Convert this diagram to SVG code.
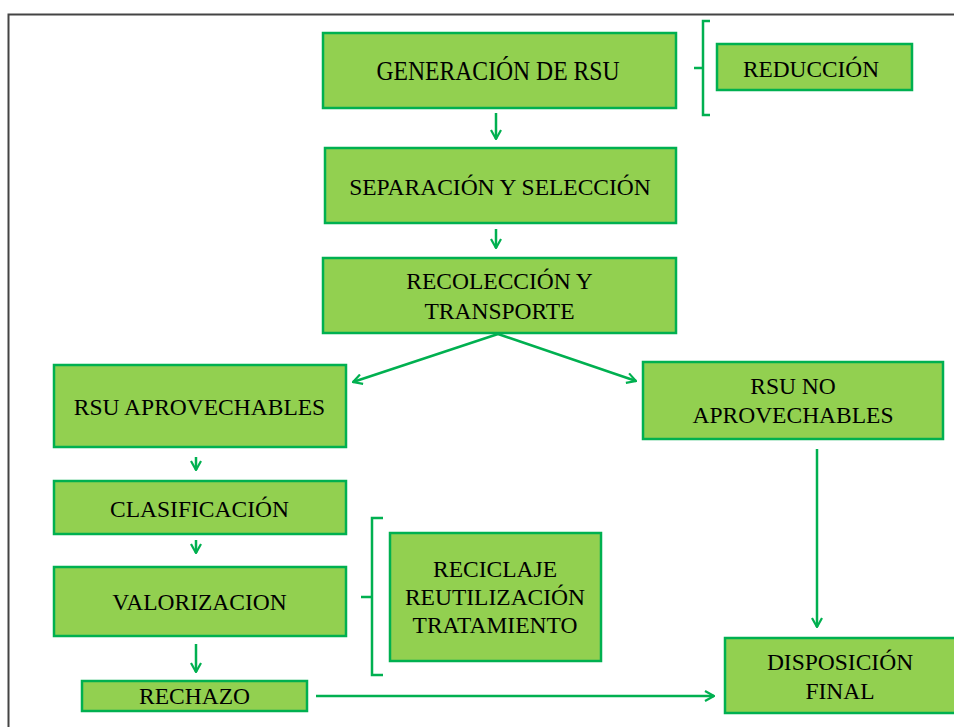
<svg xmlns="http://www.w3.org/2000/svg" width="954" height="727" viewBox="0 0 954 727">
<style>
.box{fill:#92d050;stroke:#00b050;stroke-width:2.5}
.t{font-family:"Liberation Serif",serif;font-size:23.5px;fill:#000;text-anchor:middle}
.c{fill:none;stroke:#00b050;stroke-width:2.5}
.br{fill:none;stroke:#00b050;stroke-width:2.5}
</style>
<defs>
<marker id="ah" viewBox="0 0 12 12" refX="11" refY="6" markerWidth="12" markerHeight="12" markerUnits="userSpaceOnUse" orient="auto">
<polyline points="2,1 11,6 2,11" fill="none" stroke="#00b050" stroke-width="2.2"/>
</marker>
</defs>
<rect width="954" height="727" fill="#fff"/>
<path d="M8.5,727 V14.5 H954" fill="none" stroke="#444" stroke-width="2"/>

<g id="connectors">
<line class="c" x1="496" y1="113" x2="496" y2="139" marker-end="url(#ah)"/>
<line class="c" x1="496" y1="229" x2="496" y2="248" marker-end="url(#ah)"/>
<line class="c" x1="498" y1="334" x2="353" y2="382" marker-end="url(#ah)"/>
<line class="c" x1="498" y1="334" x2="636" y2="381" marker-end="url(#ah)"/>
<line class="c" x1="196" y1="457" x2="196" y2="470" marker-end="url(#ah)"/>
<line class="c" x1="196" y1="540" x2="196" y2="553" marker-end="url(#ah)"/>
<line class="c" x1="196" y1="644" x2="196" y2="672" marker-end="url(#ah)"/>
<line class="c" x1="316" y1="696" x2="714" y2="696" marker-end="url(#ah)"/>
<line class="c" x1="817" y1="449" x2="817" y2="627" marker-end="url(#ah)"/>
<path class="br" d="M710,21 H703 V115 H710 M694,68 H703"/>
<path class="br" d="M383,518 H372 V675 H383 M361,597 H372"/>
</g>

<g id="generacion">
<rect class="box" x="323" y="33" width="353" height="75"/>
<text class="t" x="498" y="80" style="font-size:27px" textLength="243" lengthAdjust="spacingAndGlyphs">GENERACIÓN DE RSU</text>
</g>
<g id="reduccion">
<rect class="box" x="717" y="44" width="195" height="46"/>
<text class="t" x="811" y="77" style="font-size:24px" textLength="136" lengthAdjust="spacingAndGlyphs">REDUCCIÓN</text>
</g>
<g id="separacion">
<rect class="box" x="325" y="148" width="351" height="75"/>
<text class="t" x="500" y="195">SEPARACIÓN Y SELECCIÓN</text>
</g>
<g id="recoleccion">
<rect class="box" x="323" y="258" width="353" height="75"/>
<text class="t" x="499.5" y="289">RECOLECCIÓN Y</text>
<text class="t" x="499.5" y="319">TRANSPORTE</text>
</g>
<g id="aprovechables">
<rect class="box" x="54" y="365" width="292" height="82"/>
<text class="t" x="199.5" y="415">RSU APROVECHABLES</text>
</g>
<g id="noaprovechables">
<rect class="box" x="643" y="362" width="300" height="77"/>
<text class="t" x="793" y="394">RSU NO</text>
<text class="t" x="793" y="423">APROVECHABLES</text>
</g>
<g id="clasificacion">
<rect class="box" x="54" y="481" width="292" height="53"/>
<text class="t" x="199.5" y="517">CLASIFICACIÓN</text>
</g>
<g id="valorizacion">
<rect class="box" x="54" y="567" width="292" height="69"/>
<text class="t" x="199.5" y="610">VALORIZACION</text>
</g>
<g id="reciclaje">
<rect class="box" x="390" y="533" width="211" height="128"/>
<text class="t" x="495" y="577">RECICLAJE</text>
<text class="t" x="495" y="605">REUTILIZACIÓN</text>
<text class="t" x="495" y="633">TRATAMIENTO</text>
</g>
<g id="rechazo">
<rect class="box" x="82" y="681" width="225" height="30"/>
<text class="t" x="194.5" y="704">RECHAZO</text>
</g>
<g id="disposicion">
<rect class="box" x="725" y="638" width="240" height="75"/>
<text class="t" x="840" y="670">DISPOSICIÓN</text>
<text class="t" x="840" y="699">FINAL</text>
</g>
</svg>
